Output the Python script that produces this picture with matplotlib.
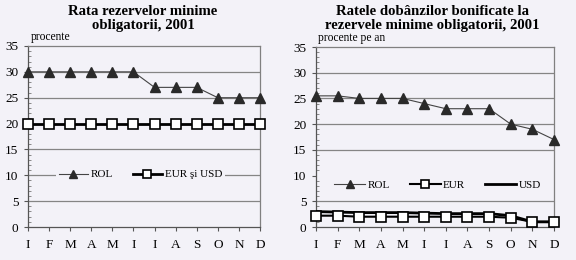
import matplotlib
matplotlib.use("Agg")
import matplotlib.pyplot as plt
from matplotlib.ticker import MultipleLocator

months = ["I", "F", "M", "A", "M", "I", "I", "A", "S", "O", "N", "D"]

# Left chart: reserve requirement ratio
rol_rrr = [30, 30, 30, 30, 30, 30, 27, 27, 27, 25, 25, 25]
eurusd_rrr = [20, 20, 20, 20, 20, 20, 20, 20, 20, 20, 20, 20]

# Right chart: interest rates paid on reserves
rol_rate = [25.5, 25.5, 25, 25, 25, 24, 23, 23, 23, 20, 19, 17]
eur_rate = [2.2, 2.2, 2.0, 2.0, 2.0, 2.0, 2.0, 2.0, 2.0, 1.8, 1.0, 1.0]
usd_rate = [3.0, 2.9, 2.8, 2.8, 2.8, 2.7, 2.6, 2.6, 2.6, 2.2, 1.0, 1.0]

BG = "#f3f2f8"
plt.rcParams["font.family"] = ["Liberation Serif", "DejaVu Serif"]

fig = plt.figure(figsize=(5.76, 2.6), dpi=100, facecolor=BG)
axL = fig.add_axes([28/576, 33/260, 232/576, 181/260])
axR = fig.add_axes([316/576, 33/260, 238/576, 180/260])

x = list(range(len(months)))

def style(ax, unit, grid):
    ax.set_facecolor(BG)
    ax.set_xlim(0, 11)
    ax.set_ylim(0, 35)
    ax.yaxis.set_major_locator(MultipleLocator(5))
    ax.yaxis.set_minor_locator(MultipleLocator(1))
    ax.set_xticks(x)
    ax.set_xticklabels(months)
    for yv in grid:
        ax.axhline(yv, color="#858585", lw=0.9, zorder=1)
    for s in ax.spines.values():
        s.set_color("#808080")
        s.set_linewidth(0.9)
    ax.spines["left"].set_color("#555555")
    ax.spines["bottom"].set_color("#555555")
    ax.tick_params(axis="both", which="major", labelsize=9.5, length=3,
                   color="#555555", pad=4)
    ax.tick_params(axis="y", which="minor", length=2, color="#777777",
                   direction="in")
    ax.tick_params(axis="x", pad=6)
    ax.text(0.01, 1.015, unit, transform=ax.transAxes, fontsize=8.3,
            ha="left", va="bottom")

style(axL, "procente", [5, 10, 15, 20, 25, 30])
style(axR, "procente pe an", [5, 15, 20, 25, 30])

# Left chart
axL.plot(x, rol_rrr, color="#444444", lw=0.8, marker="^", ms=6.5,
         mfc="#2a2a2a", mec="#2a2a2a", label="ROL", zorder=3, clip_on=False)
axL.plot(x, eurusd_rrr, color="black", lw=2.0, marker="s", ms=6.5,
         mfc="white", mec="black", mew=1.2, label="EUR şi USD", zorder=3,
         clip_on=False)
axL.legend(loc="center", bbox_to_anchor=(0.485, 0.29), ncol=2,
           fontsize=8, frameon=True, facecolor=BG, edgecolor="none",
           framealpha=1, handlelength=2.6, columnspacing=1.8,
           handletextpad=0.25, borderpad=0.3, markerscale=0.85)

# Right chart
axR.plot(x, rol_rate, color="#444444", lw=0.8, marker="^", ms=6.5,
         mfc="#2a2a2a", mec="#2a2a2a", label="ROL", zorder=3, clip_on=False)
axR.plot(x, usd_rate, color="black", lw=2.0, label="USD", zorder=3)
axR.plot(x, eur_rate, color="black", lw=1.5, marker="s", ms=6.5,
         mfc="white", mec="black", mew=1.2, label="EUR", zorder=4,
         clip_on=False)
h, l = axR.get_legend_handles_labels()
axR.legend([h[0], h[2], h[1]], [l[0], l[2], l[1]], loc="center",
           bbox_to_anchor=(0.51, 0.235), ncol=3, fontsize=8, frameon=False,
           handlelength=2.8, columnspacing=1.8, handletextpad=0.2,
           borderpad=0.3, markerscale=0.85)

fig.text(143/576, 1 - 5/260, "Rata rezervelor minime\nobligatorii, 2001",
         ha="center", va="top", fontsize=10.6, fontweight="bold",
         linespacing=1.1)
fig.text(432/576, 1 - 5/260, "Ratele dobânzilor bonificate la\nrezervele minime obligatorii, 2001",
         ha="center", va="top", fontsize=10.6, fontweight="bold",
         linespacing=1.1)

fig.savefig("out.png", dpi=100, facecolor=BG)
